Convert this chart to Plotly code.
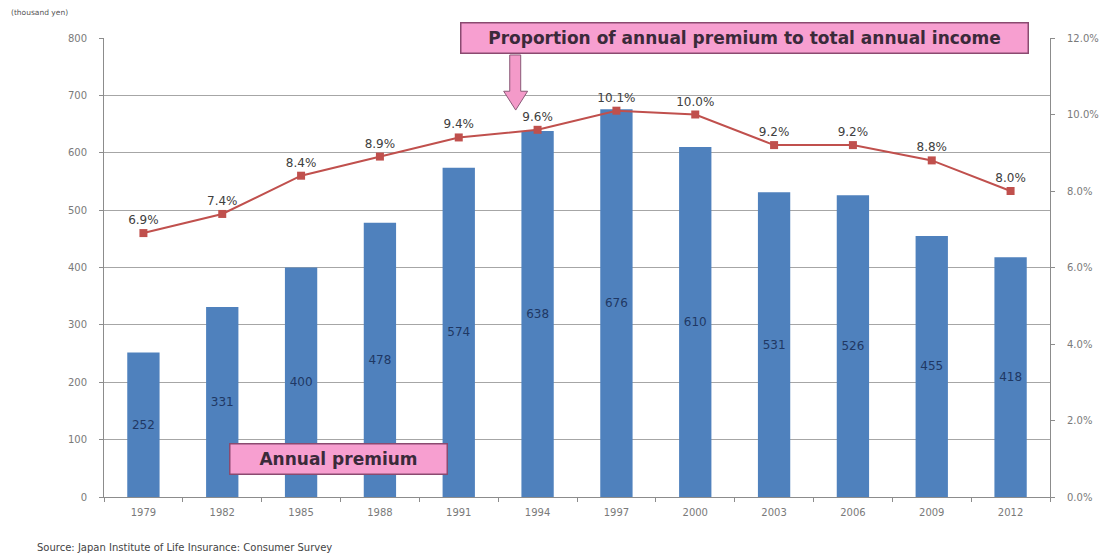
import plotly.graph_objects as go

# Survey years (every three years)
years = ["1979", "1982", "1985", "1988", "1991", "1994", "1997", "2000", "2003", "2006", "2009", "2012"]
# Annual premium per household (thousand yen)
premium = [252, 331, 400, 478, 574, 638, 676, 610, 531, 526, 455, 418]
# Annual premium as a share of total annual income (%)
ratio = [6.9, 7.4, 8.4, 8.9, 9.4, 9.6, 10.1, 10.0, 9.2, 9.2, 8.8, 8.0]

left_ticks = [0, 100, 200, 300, 400, 500, 600, 700, 800]
right_ticks = [0, 2, 4, 6, 8, 10, 12]
right_ticktext = ["0.0%", "2.0%", "4.0%", "6.0%", "8.0%", "10.0%", "12.0%"]

FONT = "DejaVu Sans"
TICK_FONT = dict(family=FONT, size=10, color="#7a7a7a")

fig = go.Figure()

fig.add_trace(go.Bar(
    x=years, y=premium,
    marker=dict(color="#4f81bd", line=dict(width=0)),
    width=0.41,
    text=[str(v) for v in premium],
    textposition="inside",
    insidetextanchor="middle",
    textangle=0,
    textfont=dict(family=FONT, size=12, color="#1f3864"),
    name="Annual premium",
    yaxis="y",
))

fig.add_trace(go.Scatter(
    x=years, y=ratio,
    mode="lines+markers+text",
    line=dict(color="#c0504d", width=2),
    marker=dict(symbol="square", size=8, color="#c0504d"),
    text=[f"{v:.1f}%" for v in ratio],
    textposition="top center",
    textfont=dict(family=FONT, size=12, color="#404040"),
    name="Proportion",
    yaxis="y2",
    cliponaxis=False,
))

# Pink arrow pointing from the ratio caption down at the 1994 marker
arrow_path = ("M 0.4289 0.963 L 0.4405 0.963 L 0.4405 0.884 L 0.4478 0.884 "
              "L 0.4352 0.843 L 0.4225 0.884 L 0.4289 0.884 Z")

fig.update_layout(
    width=1111, height=557,
    margin=dict(l=104, r=58, t=38, b=60),
    paper_bgcolor="white",
    plot_bgcolor="white",
    showlegend=False,
    xaxis=dict(
        type="category",
        range=[-0.5, 11.5],
        tickfont=TICK_FONT,
        showline=True, linecolor="#8c8c8c", linewidth=1,
        ticks="outside", ticklen=4, tickcolor="#8c8c8c",
        tickson="boundaries",
        ticklabelstandoff=6,
        showgrid=False,
    ),
    yaxis=dict(
        range=[0, 800],
        tickvals=left_ticks,
        tickfont=TICK_FONT,
        showline=True, linecolor="#8c8c8c", linewidth=1,
        ticks="outside", ticklen=4, tickcolor="#8c8c8c",
        ticklabelstandoff=10,
        showgrid=True, gridcolor="#a6a6a6", gridwidth=1,
        zeroline=False,
    ),
    yaxis2=dict(
        range=[0, 12],
        overlaying="y", side="right",
        tickvals=right_ticks, ticktext=right_ticktext,
        tickfont=TICK_FONT,
        showline=True, linecolor="#8c8c8c", linewidth=1,
        ticks="outside", ticklen=4, tickcolor="#8c8c8c",
        ticklabelstandoff=10,
        showgrid=False, zeroline=False,
    ),
    shapes=[dict(
        type="path", xref="paper", yref="paper",
        path=arrow_path,
        fillcolor="#f49ac9", line=dict(color="#8a5a78", width=1),
        layer="above",
    )],
    annotations=[
        dict(
            text="<b>Proportion of annual premium to total annual income</b>",
            xref="paper", yref="paper", x=0.6766, y=1.001, xanchor="center", yanchor="middle",
            showarrow=False,
            width=562, height=25, align="center",
            font=dict(family=FONT, size=17, color="#3b2a3a"),
            bgcolor="#f79fd0", bordercolor="#8a4a70", borderwidth=1.5, borderpad=2,
        ),
        dict(
            text="<b>Annual premium</b>",
            xref="paper", yref="paper", x=0.2476, y=0.0828, xanchor="center", yanchor="middle",
            showarrow=False,
            width=212, height=25, align="center",
            font=dict(family=FONT, size=17, color="#3b2a3a"),
            bgcolor="#f79fd0", bordercolor="#8a4a70", borderwidth=1.5, borderpad=2,
        ),
        dict(
            text="(thousand yen)",
            xref="paper", yref="paper", x=-0.1, y=1.055, xanchor="left", yanchor="middle",
            showarrow=False,
            font=dict(family=FONT, size=7.5, color="#555555"),
        ),
        dict(
            text="Source: Japan Institute of Life Insurance: Consumer Survey",
            xref="paper", yref="paper", x=-0.073, y=-0.111, xanchor="left", yanchor="middle",
            showarrow=False,
            font=dict(family=FONT, size=10, color="#444444"),
        ),
    ],
)

fig.write_html("out.html")
